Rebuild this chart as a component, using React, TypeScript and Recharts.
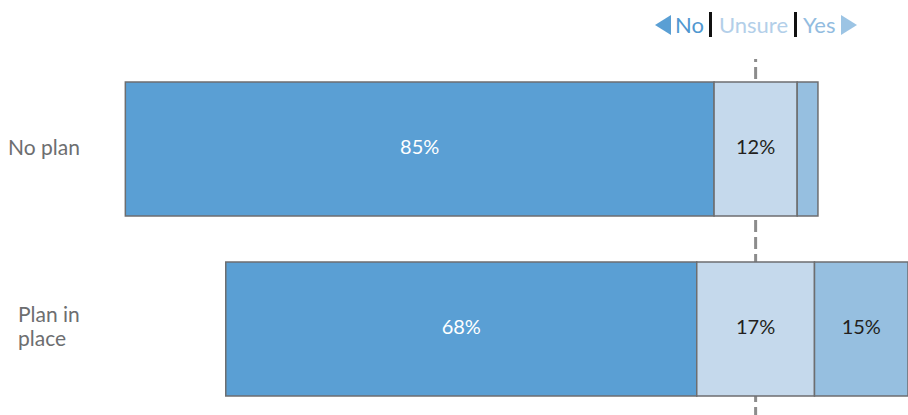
import React from "react"
import { BarChart, Bar, XAxis, YAxis, ReferenceLine, LabelList } from "recharts"

const categories = ["No plan", "Plan in place"]
const noValues = [85, 68]
const unsureValues = [12, 17]
const yesValues = [3, 15]
const centerBase = 100

const tickLines: Record<string, string[]> = {
  "No plan": ["No plan"],
  "Plan in place": ["Plan in", "place"],
}

const COLORS = {
  no: "#5a9fd4",
  unsure: "#c5d9ec",
  yes: "#96bfe0",
  stroke: "#6d6e70",
}

const FONT = "Lato, 'Open Sans', sans-serif"
const WIDTH = 908
const HEIGHT = 419

// spacer pushes each bar so the middle of "Unsure" sits on the center line
const data = categories.map((name, i) => ({
  name,
  spacer: centerBase - noValues[i] - unsureValues[i] / 2,
  no: noValues[i],
  unsure: unsureValues[i],
  yes: yesValues[i],
}))

const CategoryTick = (props: any) => {
  const { y, payload, index } = props
  const lines = tickLines[payload.value] || [payload.value]
  const startX = index === 0 ? 8 : 18
  const firstBaseline = lines.length > 1 ? y - 7.5 : y + 5.5
  return (
    <g>
      {lines.map((line, i) => (
        <text
          key={line}
          x={startX}
          y={firstBaseline + i * 24}
          fill="#6d6e70"
          fontSize={21}
          fontFamily={FONT}
          textAnchor="start"
        >
          {line}
        </text>
      ))}
    </g>
  )
}

const makeLabel = (color: string) => (props: any) => {
  const { x, y, width, height, value } = props
  if (value < 5) return null
  const right = Math.min(x + width, WIDTH)
  return (
    <text
      x={(x + right) / 2}
      y={y + height / 2 + 4.5}
      fill={color}
      fontSize={20}
      fontFamily={FONT}
      textAnchor="middle"
    >
      {`${value}%`}
    </text>
  )
}

const Triangle = ({ dir, color }: { dir: "left" | "right"; color: string }) => (
  <svg width={16} height={20} style={{ display: "block" }}>
    <polygon points={dir === "left" ? "16,0 0,10 16,20" : "0,0 16,10 0,20"} fill={color} />
  </svg>
)

const Divider = () => <div style={{ width: 3, height: 25, background: "#111" }} />

export default function App() {
  return (
    <div style={{ position: "absolute", left: 0, top: 0, width: WIDTH, height: 415, overflow: "hidden", background: "#fff" }}>
      <BarChart
        width={WIDTH}
        height={HEIGHT}
        data={data}
        layout="vertical"
        margin={{ top: 59, right: 0, bottom: 0, left: 0 }}
        barSize={134}
      >
        <XAxis type="number" hide domain={[0, 122]} allowDataOverflow />
        <YAxis
          type="category"
          dataKey="name"
          width={63}
          axisLine={false}
          tickLine={false}
          tick={<CategoryTick />}
        />
        <ReferenceLine x={centerBase} stroke="#8c8c8c" strokeWidth={3} strokeDasharray="12 5" zIndex={-100} />
        <Bar dataKey="spacer" stackId="a" fill="transparent" isAnimationActive={false} />
        <Bar dataKey="no" stackId="a" fill={COLORS.no} stroke={COLORS.stroke} strokeWidth={1.5} isAnimationActive={false}>
          <LabelList dataKey="no" content={makeLabel("#ffffff")} />
        </Bar>
        <Bar dataKey="unsure" stackId="a" fill={COLORS.unsure} stroke={COLORS.stroke} strokeWidth={1.5} isAnimationActive={false}>
          <LabelList dataKey="unsure" content={makeLabel("#231f20")} />
        </Bar>
        <Bar dataKey="yes" stackId="a" fill={COLORS.yes} stroke={COLORS.stroke} strokeWidth={1.5} isAnimationActive={false}>
          <LabelList dataKey="yes" content={makeLabel("#231f20")} />
        </Bar>
      </BarChart>

      {/* legend */}
      <div
        style={{
          position: "absolute",
          left: 655,
          top: 11,
          display: "flex",
          alignItems: "center",
          fontFamily: FONT,
          fontSize: 22,
          lineHeight: "normal",
        }}
      >
        <Triangle dir="left" color="#5a9fd4" />
        <span style={{ color: "#4f97d0", marginLeft: 4 }}>No</span>
        <div style={{ marginLeft: 5 }}><Divider /></div>
        <span style={{ color: "#b3cfe9", marginLeft: 7 }}>Unsure</span>
        <div style={{ marginLeft: 6 }}><Divider /></div>
        <span style={{ color: "#92bce0", marginLeft: 6 }}>Yes</span>
        <div style={{ marginLeft: 5 }}><Triangle dir="right" color="#9cc4e4" /></div>
      </div>
    </div>
  )
}
